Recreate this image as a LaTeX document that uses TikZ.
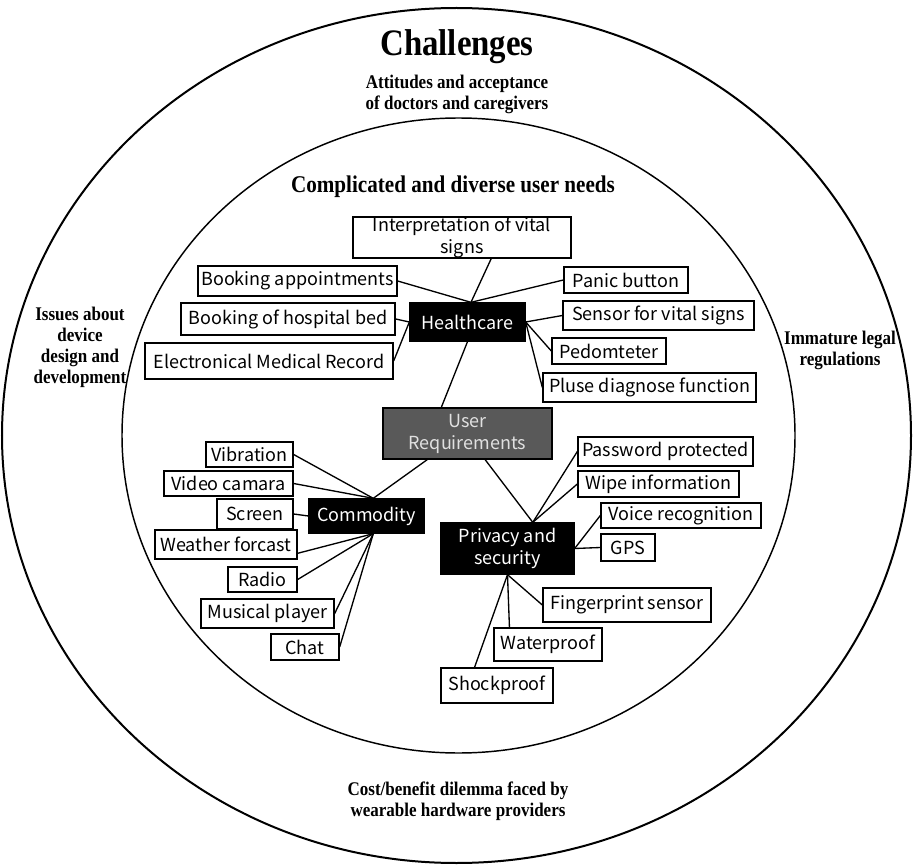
\documentclass[tikz,border=0pt]{standalone}
\usepackage{fontspec}
\usepackage{tikz}
\newfontfamily\boxfont{Noto Sans CJK KR}
\newfontfamily\headfont[FakeStretch=0.88]{Liberation Serif}

\begin{document}
\begin{tikzpicture}[x=0.75pt,y=0.75pt,yscale=-1,xscale=1,
  box/.style={draw, fill=white, line width=1pt, inner sep=0pt, align=center,
    font=\boxfont\fontsize{13.5}{16.5}\selectfont},
  hub/.style={box, fill=black, text=white},
  root/.style={box, fill=black!65, text=white!88!black},
  sz/.style 2 args={minimum width=#1*0.75pt, minimum height=#2*0.75pt},
  head/.style={inner sep=0pt, align=center, font=\headfont\bfseries\fontsize{14.5}{15.8}\selectfont},
  link/.style={line width=1pt}]

\useasboundingbox (0,0) rectangle (914,866);

% rings
\draw[line width=1.5pt] (456.5,435.5) ellipse (454.5 and 427.5);
\draw[line width=1.1pt] (458.5,435.5) ellipse (336.5 and 317.5);

% ring labels
\node[head, font=\headfont\bfseries\fontsize{28}{30}\selectfont] (title) at (457,47) {Challenges};
\node[head] (attitude) at (457,94) {Attitudes and acceptance\\of doctors and caregivers};
\node[head, font=\headfont\bfseries\fontsize{18}{20}\selectfont] (needs) at (453,187) {Complicated and diverse user needs};
\node[head] (issues) at (80,347) {Issues about\\device\\design and\\development};
\node[head] (legal) at (840,350) {Immature legal\\regulations};
\node[head] (cost) at (458,801) {Cost/benefit dilemma faced by\\wearable hardware providers};

% centre
\node[root, sz={169}{51}] (ur) at (467.5,433.5) {User\\Requirements};

% healthcare
\node[hub, sz={115}{38}] (hc) at (467.5,322) {Healthcare};
\node[box, sz={218}{41}] (ivs) at (462,237.5) {Interpretation of vital\\signs};
\node[box, sz={199}{30}] (bapp) at (297.5,281) {Booking appointments};
\node[box, sz={214}{32}] (bed) at (288,319) {Booking of hospital bed};
\node[box, sz={248}{36}] (emr) at (269,361) {Electronical Medical Record};
\node[box, sz={124}{26}] (panic) at (626,280) {Panic button};
\node[box, sz={191}{29}] (sensor) at (658.5,315.5) {Sensor for vital signs};
\node[box, sz={114}{26}] (pedo) at (609,351) {Pedomteter};
\node[box, sz={213}{29}] (pluse) at (649.5,387.5) {Pluse diagnose function};

% commodity
\node[hub, sz={115}{34}] (comm) at (366.5,516) {Commodity};
\node[box, sz={87}{25}] (vib) at (249.5,454.5) {Vibration};
\node[box, sz={129}{25}] (video) at (228.5,483.5) {Video camara};
\node[box, sz={76}{30}] (screen) at (255,514) {Screen};
\node[box, sz={142}{29}] (weather) at (226,544.5) {Weather forcast};
\node[box, sz={69}{25}] (radio) at (262.5,579.5) {Radio};
\node[box, sz={133}{29}] (music) at (267.5,613.5) {Musical player};
\node[box, sz={68}{26}] (chat) at (305,647) {Chat};

% privacy
\node[hub, sz={133}{51}] (priv) at (507.5,548.5) {Privacy and\\security};
\node[box, sz={175}{29}] (pwd) at (665.5,451.5) {Password protected};
\node[box, sz={161}{26}] (wipe) at (658.5,484) {Wipe information};
\node[box, sz={160}{25}] (voice) at (681,515.5) {Voice recognition};
\node[box, sz={54}{27}] (gps) at (628,547.5) {GPS};
\node[box, sz={168}{34}] (finger) at (627,605) {Fingerprint sensor};
\node[box, sz={108}{33}] (water) at (548,644.5) {Waterproof};
\node[box, sz={112}{35}] (shock) at (497,685.5) {Shockproof};

% links
\draw[link] (hc.south) -- (ur.135);
\draw[link] (ivs.-36) -- (hc.80);
\draw[link] (bapp.east) -- (hc.80);
\draw[link] (panic.west) -- (hc.80);
\draw[link] (bed.east) -- (hc.west);
\draw[link] (emr.east) -- (hc.west);
\draw[link] (sensor.west) -- (hc.east);
\draw[link] (pedo.west) -- (hc.east);
\draw[link] (pluse.west) -- (hc.east);

\draw[link] (ur.213) -- (comm.69);
\draw[link] (vib.east) -- (comm.69);
\draw[link] (video.east) -- (comm.69);
\draw[link] (screen.east) -- (comm.west);
\draw[link] (weather.-7) -- (comm.-69);
\draw[link] (radio.east) -- (comm.-69);
\draw[link] (music.east) -- (comm.-69);
\draw[link] (chat.east) -- (comm.-69);

\draw[link] (ur.-56) -- (priv.46);
\draw[link] (pwd.west) -- (priv.46);
\draw[link] (wipe.west) -- (priv.46);
\draw[link] (voice.west) -- (priv.east);
\draw[link] (gps.west) -- (priv.east);
\draw[link] (finger.west) -- (priv.south);
\draw[link] (water.156) -- (priv.south);
\draw[link] (shock.141) -- (priv.south);

\end{tikzpicture}
\end{document}
